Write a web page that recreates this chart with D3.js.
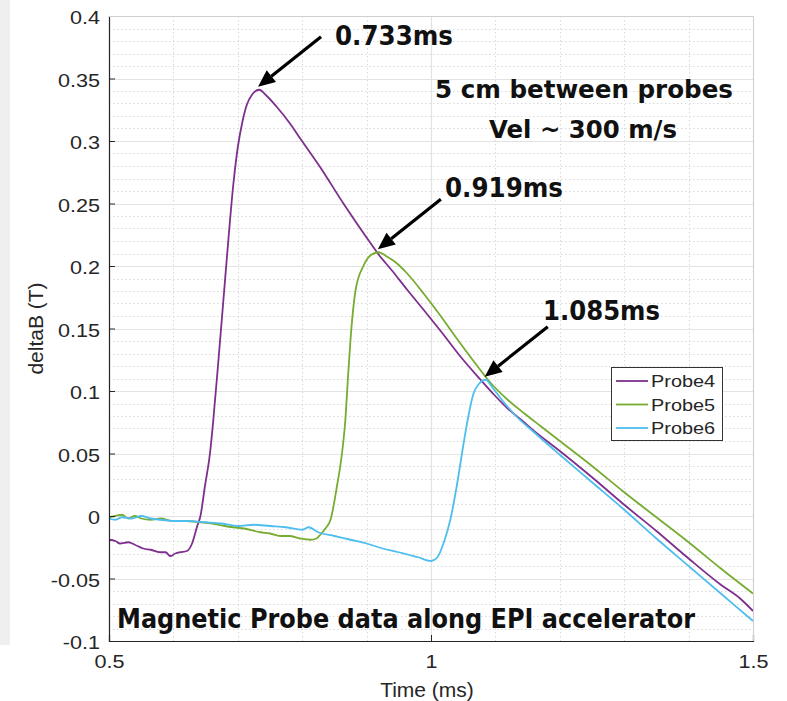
<!DOCTYPE html>
<html>
<head>
<meta charset="utf-8">
<script src="https://cdn.jsdelivr.net/npm/d3@7"></script>
<style>
  html, body { margin: 0; padding: 0; background: #fff; }
  svg { display: block; }
</style>
</head>
<body>
<svg id="chart" width="787" height="701"></svg>
<script>
// Magnetic probe traces along the EPI accelerator
const probeNames = ["Probe4", "Probe5", "Probe6"];
const probeColors = ["#7E2F8E", "#77AC30", "#4DBEEE"];

const probe4Time = [0.500, 0.510, 0.517, 0.530, 0.540, 0.553, 0.565, 0.579, 0.588, 0.595, 0.603, 0.610, 0.621, 0.629, 0.637, 0.642, 0.649, 0.657, 0.662, 0.670, 0.678, 0.686, 0.693, 0.700, 0.707, 0.714, 0.722, 0.733, 0.745, 0.761, 0.781, 0.797, 0.828, 0.864, 0.901, 0.919, 0.940, 0.963, 0.990, 1.015, 1.045, 1.077, 1.098, 1.119, 1.140, 1.160, 1.200, 1.250, 1.300, 1.350, 1.400, 1.450, 1.480, 1.500];
const probe4B = [-0.019, -0.020, -0.022, -0.021, -0.023, -0.026, -0.027, -0.029, -0.029, -0.032, -0.030, -0.029, -0.028, -0.022, -0.008, 0.000, 0.024, 0.051, 0.077, 0.125, 0.175, 0.225, 0.265, 0.295, 0.315, 0.329, 0.337, 0.341, 0.336, 0.327, 0.314, 0.302, 0.279, 0.250, 0.222, 0.209, 0.196, 0.181, 0.164, 0.148, 0.128, 0.109, 0.097, 0.086, 0.077, 0.068, 0.052, 0.031, 0.009, -0.012, -0.034, -0.055, -0.066, -0.076];

const probe5Time = [0.500, 0.510, 0.520, 0.530, 0.540, 0.550, 0.565, 0.580, 0.600, 0.620, 0.642, 0.660, 0.680, 0.693, 0.710, 0.735, 0.750, 0.766, 0.780, 0.797, 0.813, 0.822, 0.828, 0.836, 0.844, 0.854, 0.862, 0.867, 0.871, 0.875, 0.883, 0.895, 0.905, 0.919, 0.930, 0.945, 0.963, 0.990, 1.015, 1.040, 1.066, 1.090, 1.119, 1.145, 1.170, 1.200, 1.250, 1.300, 1.350, 1.400, 1.450, 1.500];
const probe5B = [-0.001, 0.000, 0.001, -0.002, 0.000, -0.002, -0.003, -0.002, -0.004, -0.004, -0.005, -0.006, -0.008, -0.009, -0.010, -0.013, -0.014, -0.016, -0.016, -0.018, -0.019, -0.018, -0.015, -0.010, -0.003, 0.024, 0.051, 0.077, 0.110, 0.141, 0.181, 0.200, 0.208, 0.211, 0.208, 0.203, 0.194, 0.177, 0.160, 0.142, 0.124, 0.108, 0.093, 0.082, 0.072, 0.060, 0.040, 0.019, -0.001, -0.021, -0.042, -0.062];

const probe6Time = [0.500, 0.510, 0.520, 0.535, 0.550, 0.565, 0.580, 0.600, 0.620, 0.650, 0.675, 0.700, 0.725, 0.750, 0.775, 0.800, 0.810, 0.825, 0.850, 0.875, 0.900, 0.925, 0.950, 0.965, 0.980, 1.000, 1.010, 1.020, 1.030, 1.040, 1.050, 1.057, 1.066, 1.075, 1.085, 1.095, 1.110, 1.130, 1.160, 1.200, 1.250, 1.300, 1.350, 1.400, 1.450, 1.500];
const probe6B = [-0.002, -0.003, -0.001, -0.002, 0.000, -0.002, -0.003, -0.004, -0.004, -0.005, -0.006, -0.008, -0.007, -0.008, -0.009, -0.011, -0.009, -0.013, -0.016, -0.019, -0.022, -0.026, -0.029, -0.031, -0.033, -0.036, -0.033, -0.021, -0.003, 0.024, 0.056, 0.077, 0.098, 0.106, 0.109, 0.103, 0.093, 0.081, 0.067, 0.049, 0.027, 0.005, -0.018, -0.040, -0.062, -0.084];

// Peak arrival times per probe (ms)
const peakTimes = [0.733, 0.919, 1.085];

const xTicks = [0.5, 1, 1.5];
const xTickLabels = ["0.5", "1", "1.5"];
const yTicks = [-0.1, -0.05, 0, 0.05, 0.1, 0.15, 0.2, 0.25, 0.3, 0.35, 0.4];
const yTickLabels = ["-0.1", "-0.05", "0", "0.05", "0.1", "0.15", "0.2", "0.25", "0.3", "0.35", "0.4"];

const xLabel = "Time (ms)";
const yLabel = "deltaB (T)";
const noteLines = ["5 cm between probes", "Vel ~ 300 m/s"];
const footerText = "Magnetic Probe data along EPI accelerator";

const series = [
  { name: probeNames[0], color: probeColors[0], t: probe4Time, b: probe4B },
  { name: probeNames[1], color: probeColors[1], t: probe5Time, b: probe5B },
  { name: probeNames[2], color: probeColors[2], t: probe6Time, b: probe6B }
];

const svg = d3.select("#chart");
const plotL = 109, plotR = 753, plotT = 16, plotB = 641;
const x = d3.scaleLinear().domain([0.5, 1.5]).range([plotL, plotR]);
const y = d3.scaleLinear().domain([-0.1, 0.4]).range([plotB, plotT]);

const SANS = "'Liberation Sans', Arial, Helvetica, sans-serif";
const BOLD = "'DejaVu Sans', Tahoma, sans-serif";

// stretch a text node horizontally by factor k
function stretch(node, k) {
  const w = node.getComputedTextLength();
  node.setAttribute("textLength", (w * k).toFixed(2));
  node.setAttribute("lengthAdjust", "spacingAndGlyphs");
}
function fitWidth(node, w) {
  node.setAttribute("textLength", w);
  node.setAttribute("lengthAdjust", "spacingAndGlyphs");
}

// grey side strip of the page
svg.append("rect").attr("x", 0).attr("y", 0).attr("width", 10).attr("height", 645).attr("fill", "#efefef");

// minor grid
const g = svg.append("g");
const yMinor = d3.range(-100, 401, 10).map(v => v / 1000).filter(v => Math.abs(Math.round(v * 1000) % 50) !== 0);
const xMinor = d3.range(5, 16, 1).map(v => v / 10).filter(v => xTicks.indexOf(v) < 0);
g.selectAll(".ymin").data(yMinor).join("line")
  .attr("x1", plotL).attr("x2", plotR).attr("y1", d => Math.round(y(d)) + 0.5).attr("y2", d => Math.round(y(d)) + 0.5)
  .attr("stroke", "#d9d9d9").attr("stroke-width", 1).attr("stroke-dasharray", "1.5,2.5");
g.selectAll(".xmin").data(xMinor).join("line")
  .attr("y1", plotT).attr("y2", plotB).attr("x1", d => Math.round(x(d)) + 0.5).attr("x2", d => Math.round(x(d)) + 0.5)
  .attr("stroke", "#d9d9d9").attr("stroke-width", 1).attr("stroke-dasharray", "1.5,2.5");
// major grid
g.selectAll(".ymaj").data(yTicks).join("line")
  .attr("x1", plotL).attr("x2", plotR).attr("y1", d => Math.round(y(d)) + 0.5).attr("y2", d => Math.round(y(d)) + 0.5)
  .attr("stroke", "#e3e3e3").attr("stroke-width", 1.2);
g.selectAll(".xmaj").data(xTicks).join("line")
  .attr("y1", plotT).attr("y2", plotB).attr("x1", d => Math.round(x(d)) + 0.5).attr("x2", d => Math.round(x(d)) + 0.5)
  .attr("stroke", "#e3e3e3").attr("stroke-width", 1.2);

// traces
const line = d3.line().x(d => x(d[0])).y(d => y(d[1])).curve(d3.curveMonotoneX);
series.forEach(s => {
  svg.append("path")
    .attr("d", line(s.t.map((t, i) => [t, s.b[i]])))
    .attr("fill", "none").attr("stroke", s.color).attr("stroke-width", 1.8)
    .attr("stroke-linejoin", "round");
});

// axes (ticks point inward)
const yAxis = d3.axisLeft(y).tickValues(yTicks).tickFormat((d, i) => yTickLabels[i]).tickSize(-6).tickPadding(9);
const xAxis = d3.axisBottom(x).tickValues(xTicks).tickFormat((d, i) => xTickLabels[i]).tickSize(-6).tickPadding(14);
const gy = svg.append("g").attr("transform", `translate(${plotL},0)`).call(yAxis);
const gx = svg.append("g").attr("transform", `translate(0,${plotB})`).call(xAxis);
[gx, gy].forEach(a => {
  a.select(".domain").attr("stroke", "#262626").attr("stroke-width", 1.2);
  a.selectAll(".tick line").attr("stroke", "#262626").attr("stroke-width", 1);
  a.selectAll(".tick text").attr("fill", "#262626").attr("font-family", SANS).attr("font-size", 18)
    .each(function () { stretch(this, 1.2); });
});
gy.selectAll(".tick text").attr("dy", "0.42em");

// axis labels
svg.append("text").attr("x", 427).attr("y", 697).attr("text-anchor", "middle")
  .attr("font-family", SANS).attr("font-size", 21).attr("fill", "#262626").text(xLabel);
svg.append("text").attr("transform", `translate(43,${(plotT + plotB) / 2}) rotate(-90)`).attr("text-anchor", "middle")
  .attr("font-family", SANS).attr("font-size", 21).attr("fill", "#262626").text(yLabel);

// legend
const lg = svg.append("g");
lg.append("rect").attr("x", 611.5).attr("y", 367.5).attr("width", 111).attr("height", 73)
  .attr("fill", "#fff").attr("stroke", "#333").attr("stroke-width", 1);
series.forEach((s, i) => {
  const ly = 381 + i * 23.5;
  lg.append("line").attr("x1", 616).attr("x2", 648).attr("y1", ly).attr("y2", ly)
    .attr("stroke", s.color).attr("stroke-width", 1.8);
  lg.append("text").attr("x", 651).attr("y", ly).attr("dy", "0.36em")
    .attr("font-family", SANS).attr("font-size", 17).attr("fill", "#262626").text(s.name)
    .each(function () { stretch(this, 1.17); });
});

// peak arrows and labels
const peakVals = series.map((s, i) => s.b[s.t.indexOf(peakTimes[i])]);
const labelPos = [[335, 45, 118], [445, 197, 118], [543, 320, 117]];
peakTimes.forEach((pt, i) => {
  const tx = x(pt) - 1, ty = y(peakVals[i]) - 3;
  const sx = tx + 63, sy = ty - 50;
  const ang = Math.atan2(ty - sy, tx - sx);
  const hl = 17, hw = 7.5;
  const bx = tx - hl * Math.cos(ang), by = ty - hl * Math.sin(ang);
  svg.append("line").attr("x1", sx).attr("y1", sy).attr("x2", bx).attr("y2", by)
    .attr("stroke", "#000").attr("stroke-width", 3.2);
  svg.append("path")
    .attr("d", `M${tx},${ty} L${bx + hw * Math.sin(ang)},${by - hw * Math.cos(ang)} L${bx - hw * Math.sin(ang)},${by + hw * Math.cos(ang)} Z`)
    .attr("fill", "#000");
  const [lx, lyy, lw] = labelPos[i];
  svg.append("text").attr("x", lx).attr("y", lyy).attr("font-family", BOLD).attr("font-weight", "bold")
    .attr("font-size", 26).attr("fill", "#111").text(d3.format(".3f")(pt) + "ms")
    .each(function () { fitWidth(this, lw); });
});

// notes
const notePos = [[435, 98, 298], [489, 138, 188]];
noteLines.forEach((t, i) => {
  svg.append("text").attr("x", notePos[i][0]).attr("y", notePos[i][1]).attr("font-family", BOLD)
    .attr("font-weight", "bold").attr("font-size", 25).attr("fill", "#111").text(t)
    .each(function () { fitWidth(this, notePos[i][2]); });
});
svg.append("text").attr("x", 117).attr("y", 628).attr("font-family", BOLD).attr("font-weight", "bold")
  .attr("font-size", 27).attr("fill", "#111").text(footerText)
  .each(function () { fitWidth(this, 578); });

// light frame on top and right
svg.append("line").attr("x1", plotL).attr("x2", plotR).attr("y1", plotT + 0.5).attr("y2", plotT + 0.5).attr("stroke", "#d0d0d0");
svg.append("line").attr("x1", plotR + 0.5).attr("x2", plotR + 0.5).attr("y1", plotT).attr("y2", plotB).attr("stroke", "#d0d0d0");
</script>
</body>
</html>
